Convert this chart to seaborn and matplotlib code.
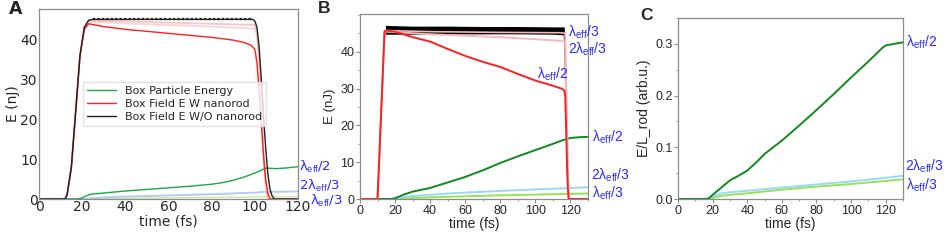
import numpy as np
import matplotlib
matplotlib.use("Agg")
import matplotlib.pyplot as plt
import seaborn as sns
from matplotlib.ticker import MultipleLocator

sns.set_style("white")
plt.rcParams['font.family'] = ['DejaVu Sans']
plt.rcParams['mathtext.fontset'] = 'custom'
plt.rcParams['mathtext.rm'] = 'Liberation Sans'

# ---- panel A data ----
a_t_wo = [0, 12, 13, 15, 17, 19, 21, 23, 25, 99, 100, 101, 102, 103, 104, 105, 106, 107, 108, 109, 120]
a_wo = [0, 0, 1, 8, 22, 36, 43, 44.8, 45, 45, 44.6, 43, 38, 30, 21, 13, 6.5, 2.5, 0.8, 0, 0]
a_t_w = [0, 12, 13, 15, 17, 19, 21, 23, 30, 40, 50, 60, 70, 80, 90, 95, 98, 100, 101, 102, 103, 104, 105, 106, 107, 120]
a_w = [0, 0, 1, 8, 22, 36, 42.5, 43.9, 43.2, 42.5, 42, 41.5, 41, 40.5, 39.8, 39.2, 38.6, 37.5, 34, 27, 19, 11, 5, 1.5, 0, 0]
a_t_pink = [0, 12, 13, 15, 17, 19, 21, 23, 40, 60, 80, 100, 101, 102, 103, 104, 105, 106, 120]
a_pink1 = [0, 0, 1, 8, 22, 36, 43, 44.7, 44.5, 44.2, 43.9, 43.6, 42, 35, 24, 12, 4, 0, 0]
a_pink2 = [0, 0, 1, 8, 22, 36, 43, 44.4, 44, 43.6, 43.2, 42.7, 41, 34, 23, 11, 4, 0, 0]
a_t_part = [0, 18, 20, 22, 24, 26, 30, 40, 50, 60, 70, 80, 85, 90, 95, 100, 103, 105, 107, 110, 115, 120]
a_part = [0, 0, 0.3, 0.8, 1.2, 1.3, 1.5, 2.0, 2.4, 2.8, 3.2, 3.7, 4.1, 4.7, 5.5, 6.5, 7.2, 7.7, 7.7, 7.6, 7.8, 8.1]
a_t_low = [0, 20, 30, 40, 60, 80, 100, 105, 110, 120]
a_blue = [0, 0, 0.4, 0.6, 0.9, 1.2, 1.6, 1.8, 1.8, 1.9]
a_lgreen = [0, 0, 0.1, 0.2, 0.3, 0.4, 0.5, 0.55, 0.55, 0.6]

# ---- panel B data ----
b_t_pink = [0, 10, 14, 15, 40, 80, 115, 117, 118, 119, 130]
b_pink1 = [0, 0, 45.5, 45.5, 44.8, 44.0, 43.0, 42.8, 20, 0, 0]
b_pink2 = [0, 0, 45.8, 45.8, 45.5, 45.3, 45.2, 45.0, 20, 0, 0]
b_t_black = [14.5, 30, 50, 70, 90, 110, 116.5]
b_black_hi = [47.2, 47.0, 47.0, 46.9, 46.9, 46.8, 46.8]
b_black_lo = [44.8, 44.8, 44.9, 44.9, 44.9, 44.8, 44.6]
b_t_drop = [116.5, 117, 117.5, 118, 118.5, 119]
b_drop = [45.5, 38, 25, 12, 4, 0]
b_t_red = [0, 10, 14, 15, 20, 30, 40, 50, 60, 70, 80, 90, 100, 110, 115, 116.5, 117, 117.5, 118, 118.5, 119, 130]
b_red = [0, 0, 45.5, 45.8, 45.5, 44.0, 42.8, 40.8, 38.9, 37.3, 35.9, 34.0, 32.2, 30.8, 30.0, 29.5, 28, 20, 10, 3, 0, 0]
b_t_green = [0, 18, 20, 25, 30, 35, 40, 50, 60, 70, 80, 90, 100, 110, 115, 118, 120, 125, 130]
b_green = [0, 0, 0.2, 1.2, 2.0, 2.5, 3.0, 4.5, 6.0, 7.8, 9.8, 11.6, 13.3, 15.0, 15.9, 16.3, 16.6, 16.8, 16.9]
b_t_low = [0, 18, 20, 30, 50, 80, 110, 130]
b_blue = [0, 0, 0.2, 0.8, 1.5, 2.2, 2.8, 3.2]
b_lgreen = [0, 0, 0.0, 0.3, 0.6, 1.0, 1.3, 1.5]

# ---- panel C data ----
c_t_green = [0, 16, 18, 20, 25, 30, 35, 40, 45, 50, 60, 70, 80, 90, 100, 110, 118, 120, 125, 130]
c_green = [0, 0, 0.002, 0.008, 0.022, 0.036, 0.045, 0.055, 0.07, 0.087, 0.113, 0.142, 0.172, 0.203,
           0.235, 0.266, 0.292, 0.297, 0.300, 0.303]
c_t_blue = [0, 18, 20, 25, 30, 40, 60, 80, 100, 120, 130]
c_blue = [0, 0, 0.005, 0.011, 0.013, 0.016, 0.022, 0.028, 0.034, 0.041, 0.045]
c_t_lgreen = [0, 19, 21, 25, 30, 40, 60, 80, 100, 120, 130]
c_lgreen = [0, 0, 0.003, 0.006, 0.008, 0.011, 0.018, 0.024, 0.029, 0.035, 0.038]

lam2 = r'λ$_{\mathrm{eff}}$/2'
lam3 = r'λ$_{\mathrm{eff}}$/3'
lam23 = r'2λ$_{\mathrm{eff}}$/3'

blue_txt = '#2a2aff'
dkgreen = '#108a1c'
red = '#ff1f1f'
pink = '#f6b8b8'
ltblue = '#9ad8f2'
ltgreen = '#98e05a'
spine_c = '#8c8c8c'

fig = plt.figure(figsize=(9.48, 2.43), dpi=100)
axA = fig.add_axes([39 / 948, 44 / 243, 259 / 948, 190 / 243])
axB = fig.add_axes([360 / 948, 44 / 243, 228 / 948, 185 / 243])
axC = fig.add_axes([678 / 948, 44 / 243, 225 / 948, 181 / 243])


def line(ax, x, y, c, lw=1.0, alpha=1.0, label=None):
    sns.lineplot(x=x, y=y, ax=ax, color=c, lw=lw, alpha=alpha, label=label, estimator=None)


# Panel A
line(axA, a_t_low, a_lgreen, '#c8ecb0', 1.0)
line(axA, a_t_low, a_blue, '#b5cde8', 1.4)
line(axA, a_t_pink, a_pink1, pink, 1.3, 0.8)
line(axA, a_t_pink, a_pink2, pink, 1.3, 0.6)
line(axA, a_t_part, a_part, '#19a846', 1.0, label='Box Particle Energy')
line(axA, a_t_w, a_w, red, 1.0, label='Box Field E W nanorod')
line(axA, a_t_wo, a_wo, '#202020', 1.0, label='Box Field E W/O nanorod')
axA.plot(a_t_wo[8:10], [45.2, 45.2], color='#202020', lw=1.6, ls=(0, (1, 1)))
axA.set_xlim(0, 120)
axA.set_ylim(0, 47.6)
axA.set_xticks(range(0, 121, 20))
axA.set_yticks(range(0, 41, 10))
axA.tick_params(labelsize=10, length=0, pad=1)
axA.set_xlabel('time (fs)', fontsize=10, labelpad=0)
axA.set_ylabel('E (nJ)', fontsize=10, labelpad=0)
axA.legend(loc='center left', bbox_to_anchor=(0.15, 0.5), fontsize=8, frameon=True,
           edgecolor='#dddddd', fancybox=False, borderpad=0.35, handlelength=2.6, labelspacing=0.25)
for t, x, yv in [(lam2, 120.3, 8.1), (lam23, 120.3, 3.3), (lam3, 125.5, -0.4)]:
    axA.text(x, yv, t, color=blue_txt, fontsize=9.5, va='center', ha='left', clip_on=False)
axA.text(-14, 49.8, 'A', fontsize=12.5, fontweight='bold', va='top', ha='left', clip_on=False)

# Panel B
line(axB, b_t_low, b_lgreen, ltgreen, 1.4)
line(axB, b_t_low, b_blue, ltblue, 1.4)
line(axB, b_t_green, b_green, dkgreen, 1.4)
axB.fill_between(b_t_black, b_black_lo, b_black_hi, color='black', lw=0)
line(axB, b_t_drop, b_drop, '#333333', 1.0)
line(axB, b_t_pink, b_pink1, pink, 1.4)
line(axB, b_t_pink, b_pink2, pink, 1.2)
line(axB, b_t_red, b_red, red, 1.4)
axB.set_xlim(0, 130)
axB.set_ylim(0, 50.3)
axB.set_xticks(range(0, 121, 20))
axB.set_yticks(range(0, 41, 10))
axB.xaxis.set_minor_locator(MultipleLocator(10))
axB.yaxis.set_minor_locator(MultipleLocator(5))

for t, x, yv in [(lam3, 118.5, 45.3), (lam23, 118.5, 40.6), (lam2, 101, 34.0),
                 (lam2, 132.5, 16.9), (lam23, 131.5, 6.4), (lam3, 132.5, 1.6)]:
    axB.text(x, yv, t, color=blue_txt, fontsize=10, va='center', ha='left', clip_on=False,
             family='Liberation Sans')
axB.text(-24, 53.8, 'B', fontsize=12.5, fontweight='bold', va='top', ha='left', clip_on=False,
         family='Liberation Sans')
axB.set_ylabel('E (nJ)', fontsize=9.5, labelpad=3, family='Liberation Sans')

# Panel C
line(axC, c_t_lgreen, c_lgreen, ltgreen, 1.4)
line(axC, c_t_blue, c_blue, ltblue, 1.4)
line(axC, c_t_green, c_green, dkgreen, 1.4)
axC.set_xlim(0, 130)
axC.set_ylim(0, 0.35)
axC.set_xticks(range(0, 121, 20))
axC.set_yticks([0, 0.1, 0.2, 0.3])
axC.set_yticklabels(['0.0', '0.1', '0.2', '0.3'])
axC.xaxis.set_minor_locator(MultipleLocator(10))
axC.yaxis.set_minor_locator(MultipleLocator(0.05))
for t, x, yv in [(lam2, 132, 0.303), (lam23, 131, 0.064), (lam3, 132, 0.027)]:
    axC.text(x, yv, t, color=blue_txt, fontsize=10, va='center', ha='left', clip_on=False,
             family='Liberation Sans')
axC.text(-22, 0.37, 'C', fontsize=12.5, fontweight='bold', va='top', ha='left', clip_on=False,
         family='Liberation Sans')
axC.set_ylabel('E/L_rod (arb.u.)', fontsize=10, labelpad=3, family='Liberation Sans')

for ax in (axB, axC):
    ax.tick_params(which='major', direction='out', length=3, width=0.8, labelsize=9, pad=1,
                   color=spine_c, bottom=True, left=True)
    ax.tick_params(which='minor', direction='out', length=1.5, width=0.6, color=spine_c,
                   bottom=True, left=True)
    for lab in ax.get_xticklabels() + ax.get_yticklabels():
        lab.set_family('Liberation Sans')
    ax.set_xlabel('time (fs)', fontsize=10, labelpad=0, family='Liberation Sans')

for ax in (axA, axB, axC):
    for s in ax.spines.values():
        s.set_color(spine_c)
        s.set_linewidth(0.9)
    if ax.get_legend() is not None and ax is not axA:
        ax.get_legend().remove()

fig.savefig('out.png', dpi=100)
